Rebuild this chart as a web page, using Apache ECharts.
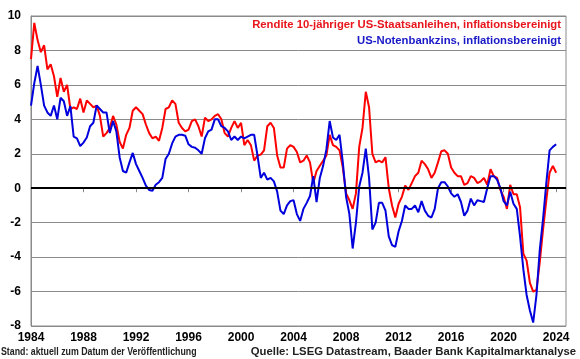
<!DOCTYPE html>
<html>
<head>
<meta charset="utf-8">
<script src="https://cdn.jsdelivr.net/npm/echarts@6/dist/echarts.min.js"></script>
<style>html,body{margin:0;padding:0;background:#fff}#c{width:580px;height:359px}</style>
</head>
<body>
<div id="c"></div>
<script>
var startYear = 1984;
var endYear = 2024;
var yearTicks = ['1984','1988','1992','1996','2000','2004','2008','2012','2016','2020','2024'];

var seriesNames = ['Rendite 10-jähriger US-Staatsanleihen, inflationsbereinigt', 'US-Notenbankzins, inflationsbereinigt'];

var realYield10y = [
  7.5, 9.6, 8.6, 7.9,   8.3, 6.9, 7.2, 6.5,   5.3, 6.4, 5.6, 6.0,   4.6, 4.7, 4.6, 5.2,
  4.4, 5.1, 4.9, 4.7,   4.8, 4.2, 3.0, 3.2,   3.5, 4.2, 3.7, 2.7,   2.3, 3.1, 3.5, 4.5,
  4.7, 4.5, 4.3, 3.7,   3.2, 2.9, 3.0, 2.75,  3.5, 4.6, 4.7, 5.1,   4.9, 3.8, 3.5, 3.3,
  3.4, 3.9, 4.0, 3.6,   3.0, 4.1, 3.9, 4.0,   4.2, 4.3, 4.0, 3.2,   3.0, 3.5, 3.9, 3.5,
  3.8, 2.5, 2.8, 2.5,   1.6, 1.9, 1.95, 2.2,  3.6, 3.8, 3.5, 1.9,   1.2, 1.2, 2.3, 2.5,
  2.4, 2.1, 1.5, 1.6,   1.9, 1.5, 0.3, 1.0,   1.3, 1.6, 1.9, 3.1,   2.5, 2.4, 2.2, 1.2,
  -0.3, -0.7, -1.2, -0.3, 2.4, 3.5, 5.6, 4.7, 2.0, 1.5, 1.6, 1.5,   1.8, 0.0, -1.0, -1.7,
  -0.9, -0.5, 0.15, -0.1, 0.3, 0.7, 0.9, 1.6, 1.4, 1.1, 0.6, 0.9,   1.5, 2.15, 2.2, 2.0,
  1.2, 0.9, 0.7, 0.7,   0.2, 0.3, 0.7, 0.6,   0.3, 0.4, 0.6, 0.2,   1.1, 0.7, 0.6, -0.1,
  -0.5, -1.2, 0.2, -0.35, -0.35, -1.1, -3.8, -4.2, -5.5, -6.0, -5.9, -4.3, -2.4, -0.7, 0.9, 1.3,
  0.9
];

var realFedFunds = [
  4.8, 6.1, 7.1, 6.0,   4.8, 4.4, 4.2, 4.8,   4.0, 5.25, 5.05, 4.2, 4.77, 3.0, 2.9, 2.45,
  2.65, 2.95, 3.6, 3.8, 4.8, 4.6, 4.4, 4.4,   3.2, 3.9, 3.3, 1.8,   1.0, 0.9, 1.5, 2.05,
  1.4, 1.0, 0.6, 0.15,  -0.1, -0.15, 0.2, 0.35, 0.6, 1.7, 2.0, 2.6, 3.0, 3.1, 3.1, 3.05,
  2.55, 2.4, 2.35, 2.2, 2.0, 2.9, 3.3, 3.4,   4.0, 4.0, 3.6, 3.5,   3.3, 2.8, 3.0, 2.8,
  3.0, 2.9, 3.0, 3.1,   3.1, 1.9, 0.6, 0.9,   0.5, 0.6, 0.4, -0.2,  -1.3, -1.5, -1.0, -0.75,
  -0.7, -1.5, -1.9, -1.2, -0.85, -0.45, 0.7, -0.8, 0.6, 1.3, 2.25, 3.9, 2.95, 2.8, 3.1, 1.5,
  -0.5, -1.5, -3.5, -2.0, 0.1, 0.9, 2.3, 0.6, -2.4, -2.0, -0.85, -0.85, -1.3, -2.8, -3.3, -3.4,
  -2.5, -1.9, -1.0, -1.2, -1.2, -1.0, -1.4, -0.75, -1.3, -1.6, -1.7, -1.2, 0.0, 0.35, 0.35, 0.1,
  -0.3, -0.5, -0.35, -0.8, -1.6, -1.3, -0.6, -1.0, -0.7, -0.75, -0.8, 0.0, 0.7, 0.7, 0.5, 0.0,
  -0.75, -1.0, -0.2, -0.9, -1.2, -2.8, -4.7, -6.2, -7.1, -7.8, -6.2, -3.6, -1.8, 0.3, 2.2, 2.4,
  2.55
];

var categories = [];
for (var y = startYear; y <= endYear; y++) {
  for (var q = 1; q <= 4; q++) categories.push(y + '-Q' + q);
}

var chart = echarts.init(document.getElementById('c'), null, {renderer: 'canvas'});
var font = '"Liberation Sans", Arial, sans-serif';
chart.setOption({
  animation: false,
  backgroundColor: '#fff',
  grid: {left: 31, right: 14, top: 16, bottom: 33, show: true, borderColor: '#8a8a8a', borderWidth: 1},
  xAxis: {
    type: 'category',
    data: categories,
    boundaryGap: false,
    axisLine: {show: true, lineStyle: {color: '#8a8a8a', width: 1}},
    axisTick: {show: true, interval: 15, length: 4, lineStyle: {color: '#8a8a8a'}},
    axisLabel: {
      interval: 15, margin: 6, color: '#000', fontFamily: font, fontWeight: 'bold', fontSize: 12,
      formatter: function (v) { var yr = v.slice(0, 4); return yearTicks.indexOf(yr) >= 0 ? yr : ''; }
    },
    splitLine: {show: false}
  },
  yAxis: {
    type: 'value', min: -8, max: 10, interval: 2,
    axisLine: {show: true, lineStyle: {color: '#8a8a8a'}},
    axisTick: {show: false},
    axisLabel: {margin: 10, color: '#000', fontFamily: font, fontWeight: 'bold', fontSize: 12},
    splitLine: {show: true, lineStyle: {color: '#8a8a8a', width: 1}}
  },
  series: [
    {
      name: seriesNames[0], type: 'line', data: realYield10y, showSymbol: false, symbol: 'none',
      lineStyle: {color: '#ff0000', width: 2}, itemStyle: {color: '#ff0000'},
      markLine: {silent: true, symbol: 'none', label: {show: false},
        lineStyle: {color: '#000', width: 2, type: 'solid'}, data: [{yAxis: 0}]},
      z: 3
    },
    {
      name: seriesNames[1], type: 'line', data: realFedFunds, showSymbol: false, symbol: 'none',
      lineStyle: {color: '#0000dd', width: 2}, itemStyle: {color: '#0000dd'},
      z: 4
    }
  ],
  graphic: [
    {type: 'text', right: 19, top: 19, style: {text: seriesNames[0], fill: '#e8141b', font: 'bold 11.3px ' + font}},
    {type: 'text', right: 19, top: 35, style: {text: seriesNames[1], fill: '#1818c8', font: 'bold 11.3px ' + font}},
    {type: 'text', left: 1, top: 347, scaleX: 0.88, style: {text: 'Stand: aktuell zum Datum der Veröffentlichung', fill: '#222', font: 'bold 10px ' + font}},
    {type: 'text', right: 4, top: 346, style: {text: 'Quelle: LSEG Datastream, Baader Bank Kapitalmarktanalyse', fill: '#222', font: 'bold 11.3px ' + font}}
  ]
});
</script>
</body>
</html>
